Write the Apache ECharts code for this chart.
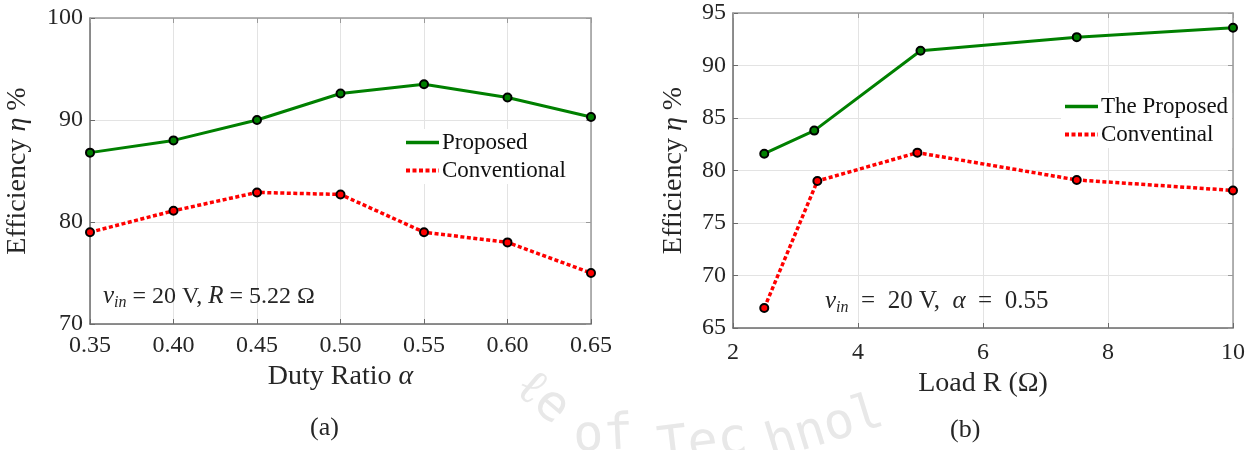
<!DOCTYPE html>
<html>
<head>
<meta charset="utf-8">
<script src="https://cdn.jsdelivr.net/npm/echarts@6/dist/echarts.min.js"></script>
<style>
html,body{margin:0;padding:0;background:#fff;}
#chart{width:1251px;height:450px;}
</style>
</head>
<body>
<div id="chart"></div>
<script>
// ---- Data (a) ----
const dutyRatio = [0.35, 0.40, 0.45, 0.50, 0.55, 0.60, 0.65];
const proposedA = [86.8, 88.0, 90.0, 92.6, 93.5, 92.2, 90.3];
const conventionalA = [79.0, 81.1, 82.9, 82.7, 79.0, 78.0, 75.0];
// ---- Data (b) ----
const loadProposed = [2.5, 3.3, 5.0, 7.5, 10];
const proposedB = [81.6, 83.8, 91.4, 92.7, 93.6];
const loadConventional = [2.5, 3.35, 4.95, 7.5, 10];
const conventionalB = [66.9, 79.0, 81.7, 79.1, 78.1];
// ---- Ticks ----
const xTicksA = [0.35, 0.40, 0.45, 0.50, 0.55, 0.60, 0.65];
const yTicksA = [70, 80, 90, 100];
const xTicksB = [2, 4, 6, 8, 10];
const yTicksB = [65, 70, 75, 80, 85, 90, 95];

const pairs = (xs, ys) => xs.map((x, i) => [x, ys[i]]);
const GREEN = '#008000', RED = '#ff0000';
const SERIF = '"Liberation Serif","DejaVu Serif",serif';
const TXT = '#262626';
const TITLE = 28, TICK = 24, LEG = 23;

function xAxisDef(grid, ticks, fmt, name, gap, margin) {
  return {
    type: 'value', gridIndex: grid,
    min: ticks[0], max: ticks[ticks.length - 1],
    interval: ticks[1] - ticks[0],
    name: name, nameLocation: 'middle', nameGap: gap,
    nameTextStyle: {fontFamily: SERIF, fontSize: TITLE, color: TXT,
      rich: {i: {fontFamily: SERIF, fontStyle: 'italic', fontSize: TITLE, color: TXT}}},
    axisLine: {lineStyle: {color: '#6b6b6b', width: 1.5}},
    axisTick: {inside: true, length: 5, lineStyle: {color: '#6b6b6b'}},
    axisLabel: {fontFamily: SERIF, fontSize: TICK, color: TXT, margin: margin, formatter: fmt},
    splitLine: {show: true, lineStyle: {color: '#e3e3e3', width: 1}}
  };
}
function yAxisDef(grid, ticks, gap) {
  return {
    type: 'value', gridIndex: grid,
    min: ticks[0], max: ticks[ticks.length - 1],
    interval: ticks[1] - ticks[0],
    name: 'Efficiency {i|η} %', nameLocation: 'middle', nameGap: gap, nameRotate: 90,
    nameTextStyle: {fontFamily: SERIF, fontSize: TITLE, color: TXT,
      rich: {i: {fontFamily: SERIF, fontStyle: 'italic', fontSize: TITLE, color: TXT}}},
    axisLine: {show: true, lineStyle: {color: '#6b6b6b', width: 1.5}},
    axisTick: {show: true, inside: true, length: 5, lineStyle: {color: '#6b6b6b'}},
    axisLabel: {fontFamily: SERIF, fontSize: TICK, color: TXT, margin: 7},
    splitLine: {show: true, lineStyle: {color: '#e3e3e3', width: 1}}
  };
}
function boxX(grid, ticks) {
  return {type: 'value', gridIndex: grid, position: 'top',
    min: ticks[0], max: ticks[ticks.length - 1], interval: ticks[1] - ticks[0],
    axisLine: {lineStyle: {color: '#9a9a9a', width: 1.5}},
    axisTick: {inside: true, length: 5, lineStyle: {color: '#9a9a9a'}},
    axisLabel: {show: false}, splitLine: {show: false}};
}
function boxY(grid, ticks) {
  return {type: 'value', gridIndex: grid, position: 'right',
    min: ticks[0], max: ticks[ticks.length - 1], interval: ticks[1] - ticks[0],
    axisLine: {show: true, lineStyle: {color: '#9a9a9a', width: 1.5}},
    axisTick: {show: true, inside: true, length: 5, lineStyle: {color: '#9a9a9a'}},
    axisLabel: {show: false}, splitLine: {show: false}};
}
function lineSeries(name, xi, yi, data, color, dotted) {
  return {
    name: name, type: 'line', xAxisIndex: xi, yAxisIndex: yi, data: data,
    symbol: 'circle', symbolSize: 8,
    itemStyle: {color: color, borderColor: '#000', borderWidth: 2},
    lineStyle: {color: color, width: dotted ? 3.5 : 3, type: dotted ? [4, 2.5] : 'solid'},
    z: dotted ? 3 : 4, animation: false
  };
}
function legendDef(names, left, top) {
  return {
    data: [
      {name: names[0], lineStyle: {width: 3.5, type: 'solid'}},
      {name: names[1], lineStyle: {width: 4, type: [4, 2.5]}}
    ],
    orient: 'vertical', left: left, top: top,
    itemWidth: 33, itemHeight: 16, itemGap: 5, padding: [2, 4, 2, 2],
    backgroundColor: '#fff', itemStyle: {opacity: 0},
    textStyle: {fontFamily: SERIF, fontSize: LEG, color: '#111', padding: [0, 0, 0, -2]}
  };
}
const annRich = {
  i: {fontStyle: 'italic', fontFamily: SERIF, fontSize: 25, fill: TXT},
  s: {fontStyle: 'italic', fontFamily: SERIF, fontSize: 16, fill: TXT, padding: [12, 0, 0, 0]}
};

const chart = echarts.init(document.getElementById('chart'), null, {renderer: 'canvas'});
const wm = {type: 'text', silent: true, z: -1,
  style: {fill: '#e8e8e8', font: '50px "DejaVu Sans Mono", monospace'}};
const option = {
  backgroundColor: '#fff',
  animation: false,
  grid: [
    {left: 90, top: 18, width: 501, height: 306},
    {left: 733, top: 13, width: 500, height: 315}
  ],
  xAxis: [
    xAxisDef(0, xTicksA, v => v.toFixed(2), 'Duty Ratio {i|α}', 39, 10),
    xAxisDef(1, xTicksB, v => String(v), 'Load R (Ω)', 37, 13),
    boxX(0, xTicksA), boxX(1, xTicksB)
  ],
  yAxis: [
    yAxisDef(0, yTicksA, 58),
    yAxisDef(1, yTicksB, 45),
    boxY(0, yTicksA), boxY(1, yTicksB)
  ],
  legend: [
    legendDef(['Proposed', 'Conventional'], 402, 129),
    legendDef(['The Proposed', 'Conventinal'], 1061, 93)
  ],
  series: [
    lineSeries('Proposed', 0, 0, pairs(dutyRatio, proposedA), GREEN, false),
    lineSeries('Conventional', 0, 0, pairs(dutyRatio, conventionalA), RED, true),
    lineSeries('The Proposed', 1, 1, pairs(loadProposed, proposedB), GREEN, false),
    lineSeries('Conventinal', 1, 1, pairs(loadConventional, conventionalB), RED, true)
  ],
  graphic: [
    {type: 'text', left: 103, top: 284, z: 10, style: {
      text: '{i|v}{s|in} = 20 V, {i|R} = 5.22 Ω', fill: TXT,
      font: '24px ' + SERIF, rich: annRich}},
    {type: 'text', left: 825, top: 289, z: 10, style: {
      text: '{i|v}{s|in}\u2002=\u200220 V,\u2002{i|α}\u2002=\u20020.55', fill: TXT,
      font: '25px ' + SERIF, rich: annRich}},
    {type: 'text', left: 310, top: 415, style: {text: '(a)', fill: TXT, font: '26px ' + SERIF}},
    {type: 'text', left: 950, top: 417, style: {text: '(b)', fill: TXT, font: '26px ' + SERIF}},
    Object.assign({}, wm, {left: 505, top: 362, rotation: -0.7, style: Object.assign({}, wm.style, {text: 'ℓe'})}),
    Object.assign({}, wm, {left: 572, top: 410, rotation: 0.05, style: Object.assign({}, wm.style, {text: 'of'})}),
    Object.assign({}, wm, {left: 655, top: 414, rotation: 0.12, style: Object.assign({}, wm.style, {text: 'Tec'})}),
    Object.assign({}, wm, {left: 760, top: 388, rotation: 0.3, style: Object.assign({}, wm.style, {text: 'hnol'})})
  ]
};
chart.setOption(option);
</script>
</body>
</html>
